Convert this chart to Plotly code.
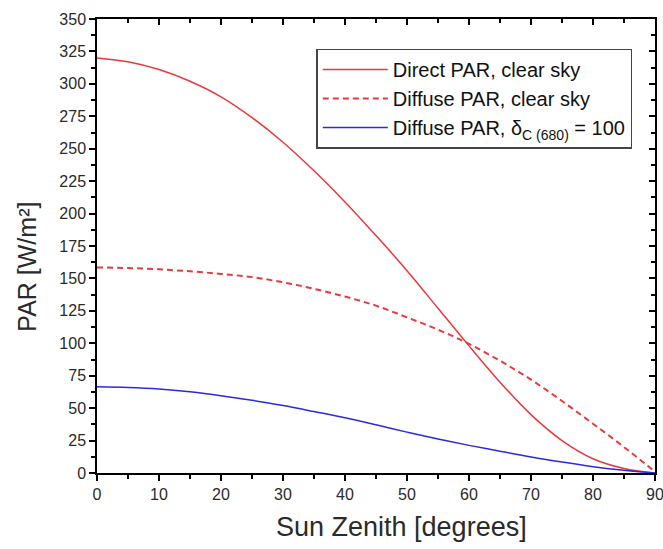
import plotly.graph_objects as go

zenith = [0, 5, 10, 15, 20, 25, 30, 35, 40, 45, 50, 55, 60, 65, 70, 75, 80, 85, 90]
direct_clear = [320, 317, 311, 302, 290, 274, 255, 233, 209, 183, 156, 127, 98, 70, 45, 25, 11, 3.5, 0]
diffuse_clear = [158.5, 158, 157, 155.5, 153.5, 151, 147, 142, 136, 129, 120, 110.5, 99.5, 86.5, 72, 55.5, 38, 20, 1]
diffuse_turbid = [66.5, 66, 64.8, 62.6, 59.6, 56, 52, 47.4, 42.6, 37.2, 31.5, 26.2, 21.3, 16.8, 12.4, 8.4, 4.9, 2.1, 0]

x_ticks = [0, 10, 20, 30, 40, 50, 60, 70, 80, 90]
y_ticks = [0, 25, 50, 75, 100, 125, 150, 175, 200, 225, 250, 275, 300, 325, 350]

x_title = "Sun Zenith [degrees]"
y_title = "PAR [W/m²]"

FONT = "Arial, Liberation Sans, sans-serif"
RED = "#e8393c"
BLUE = "#2a2ae0"
TXT = "#2a2a2a"

fig = go.Figure()
fig.add_trace(go.Scatter(x=zenith, y=direct_clear, mode="lines", line_shape="spline",
                         name="Direct PAR, clear sky", line=dict(color=RED, width=1.5)))
fig.add_trace(go.Scatter(x=zenith, y=diffuse_clear, mode="lines", line_shape="spline",
                         name="Diffuse PAR, clear sky", line=dict(color=RED, width=2, dash="6px,4px")))
fig.add_trace(go.Scatter(x=zenith, y=diffuse_turbid, mode="lines", line_shape="spline",
                         name="Diffuse PAR, δ<sub>C (680)</sub> = 100", line=dict(color=BLUE, width=1.5)))

axis_common = dict(showgrid=False, zeroline=False, showline=True, linecolor="black", linewidth=1.5,
                   tickcolor="black", tickwidth=1.5, automargin=False)

fig.update_layout(
    width=663, height=549,
    margin=dict(l=97, r=8, t=19, b=76, autoexpand=False),
    paper_bgcolor="white", plot_bgcolor="white",
    font=dict(family=FONT, size=16, color=TXT),
    xaxis=dict(range=[0, 90], tickvals=x_ticks, ticks="outside", ticklen=6,
               minor=dict(dtick=5, ticks="outside", ticklen=4, tickcolor="black", tickwidth=1.5),
               tickfont=dict(size=16), ticklabeloverflow="allow", **axis_common),
    yaxis=dict(range=[0, 350], tickvals=y_ticks, ticks="outside", ticklen=6,
               minor=dict(dtick=12.5, ticks="outside", ticklen=4, tickcolor="black", tickwidth=1.5),
               tickfont=dict(size=16), **axis_common),
    xaxis2=dict(range=[0, 90], overlaying="x", side="top", tickvals=x_ticks, ticks="inside", ticklen=6,
                minor=dict(dtick=5, ticks="inside", ticklen=4, tickcolor="black", tickwidth=1.5),
                showticklabels=False, **axis_common),
    yaxis2=dict(range=[0, 350], overlaying="y", side="right", tickvals=y_ticks, ticks="inside", ticklen=6,
                minor=dict(dtick=12.5, ticks="inside", ticklen=4, tickcolor="black", tickwidth=1.5),
                showticklabels=False, **axis_common),
    legend=dict(x=0.393, y=0.935, xanchor="left", yanchor="top",
                bgcolor="white", bordercolor="#444", borderwidth=1.5,
                font=dict(size=20, color="#111"), itemwidth=65,
                tracegroupgap=0),
    showlegend=True,
    annotations=[
        dict(text=x_title, xref="paper", yref="paper", x=0.545, y=-0.12,
             xanchor="center", yanchor="middle", showarrow=False,
             font=dict(size=27, color=TXT)),
        dict(text=y_title, xref="paper", yref="paper", x=-0.125, y=0.455,
             xanchor="center", yanchor="middle", showarrow=False, textangle=-90,
             font=dict(size=25, color=TXT)),
    ],
)

# invisible trace to anchor the mirrored axes
fig.add_trace(go.Scatter(x=[0], y=[0], xaxis="x2", yaxis="y2", mode="markers",
                         marker=dict(opacity=0), showlegend=False, hoverinfo="skip"))

fig.write_html("out.html")
